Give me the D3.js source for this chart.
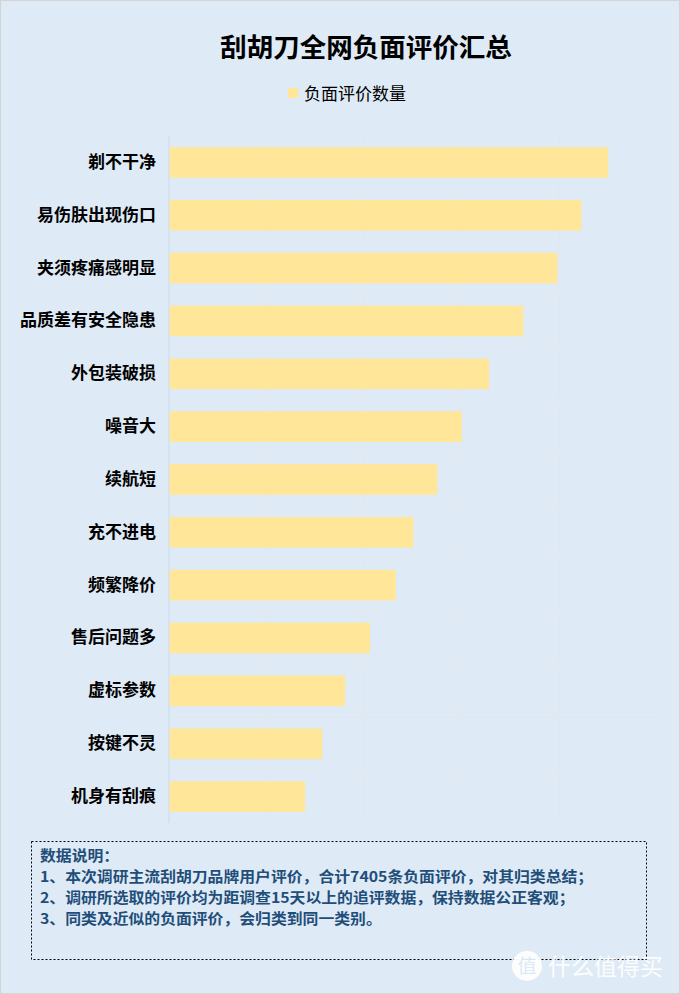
<!DOCTYPE html>
<html><head><meta charset="utf-8">
<script src="https://cdn.jsdelivr.net/npm/d3@7/dist/d3.min.js"></script>
<style>
html,body{margin:0;padding:0;background:#fff;}
svg{display:block;font-family:"Noto Sans CJK SC","Noto Sans",sans-serif;}
</style></head>
<body>
<script>
const categories = ["剃不干净","易伤肤出现伤口","夹须疼痛感明显","品质差有安全隐患","外包装破损","噪音大","续航短","充不进电","频繁降价","售后问题多","虚标参数","按键不灵","机身有刮痕"];
const values = [900,845,796,726,656,600,550,501,465,412,361,314,279];
const xTicks = [0,200,400,600,800,1000];
const seriesName = "负面评价数量";
const titleText = "刮胡刀全网负面评价汇总";
const notes = ["数据说明：","1、本次调研主流刮胡刀品牌用户评价，合计7405条负面评价，对其归类总结；","2、调研所选取的评价均为距调查15天以上的追评数据，保持数据公正客观；","3、同类及近似的负面评价，会归类到同一类别。"];

const W = 680, H = 994;
const svg = d3.select("body").append("svg").attr("width", W).attr("height", H);
svg.append("rect").attr("x",0.5).attr("y",0.5).attr("width",W-1).attr("height",H-1)
  .attr("fill","#DEEAF6").attr("stroke","#D4D4D4");

const m = {left:169, right:657, top:136, bottom:823};
const x = d3.scaleLinear().domain([0,1000]).range([m.left, m.right]);
const y = d3.scaleBand().domain(categories).range([m.top, m.bottom]).paddingInner(0.42).paddingOuter(0.21);

// grid
const g = svg.append("g");
g.selectAll("line.v").data(xTicks.slice(1)).join("line")
  .attr("x1", d=>x(d)).attr("x2", d=>x(d)).attr("y1", m.top).attr("y2", m.bottom)
  .attr("stroke","#E4E7EC").attr("stroke-width",1);
const step = (m.bottom - m.top)/categories.length;
g.selectAll("line.h").data(d3.range(categories.length+1)).join("line")
  .attr("x1", m.left).attr("x2", m.right)
  .attr("y1", i=>m.top + i*step).attr("y2", i=>m.top + i*step)
  .attr("stroke","#E4E7EC").attr("stroke-width",1);
g.append("line").attr("x1",m.left).attr("x2",m.left).attr("y1",m.top).attr("y2",m.bottom)
  .attr("stroke","#C9DBF2").attr("stroke-width",1);

// bars
svg.append("g").selectAll("rect").data(values).join("rect")
  .attr("x", x(0)+0.5).attr("y", (d,i)=>y(categories[i]))
  .attr("width", d=>x(d)-x(0)-0.5).attr("height", y.bandwidth())
  .attr("fill","#FFE699");

// y axis labels
const yAxis = d3.axisLeft(y).tickSize(0).tickPadding(13);
const ya = svg.append("g").attr("transform",`translate(${m.left},0)`).call(yAxis);
ya.select(".domain").remove();
ya.selectAll("text").attr("font-size",17).attr("font-weight",700).attr("fill","#000")
  .attr("font-family",'"Noto Sans CJK SC",sans-serif');

// title
svg.append("text").attr("x",366).attr("y",57).attr("text-anchor","middle")
  .attr("font-size",26.5).attr("font-weight",700).attr("fill","#000").text(titleText);

// legend
svg.append("rect").attr("x",288).attr("y",88).attr("width",10).attr("height",10).attr("fill","#FFE699");
svg.append("text").attr("x",304).attr("y",100).attr("font-size",17).attr("fill","#000").text(seriesName);

// notes box
svg.append("rect").attr("x",31.5).attr("y",841.5).attr("width",615).attr("height",118)
  .attr("fill","none").attr("stroke","#000").attr("stroke-dasharray","2,2").attr("stroke-width",1);
svg.append("g").attr("transform","translate(40,0) scale(1.1,1)")
  .selectAll("text").data(notes).join("text")
  .attr("x",0).attr("y",(d,i)=>861.5 + i*21).attr("font-size",14.4).attr("font-weight",700)
  .attr("fill","#1F4E79").text(d=>d);

// watermark
const wm = svg.append("g").attr("opacity",0.95);
wm.append("circle").attr("cx",527).attr("cy",966).attr("r",15).attr("fill","#fff");
wm.append("text").attr("x",527).attr("y",973).attr("text-anchor","middle").attr("font-size",19)
  .attr("fill","#DEEAF6").text("值");
wm.append("text").attr("x",548).attr("y",975).attr("font-size",23).attr("fill","#fff").text("什么值得买");
</script>
</body></html>
